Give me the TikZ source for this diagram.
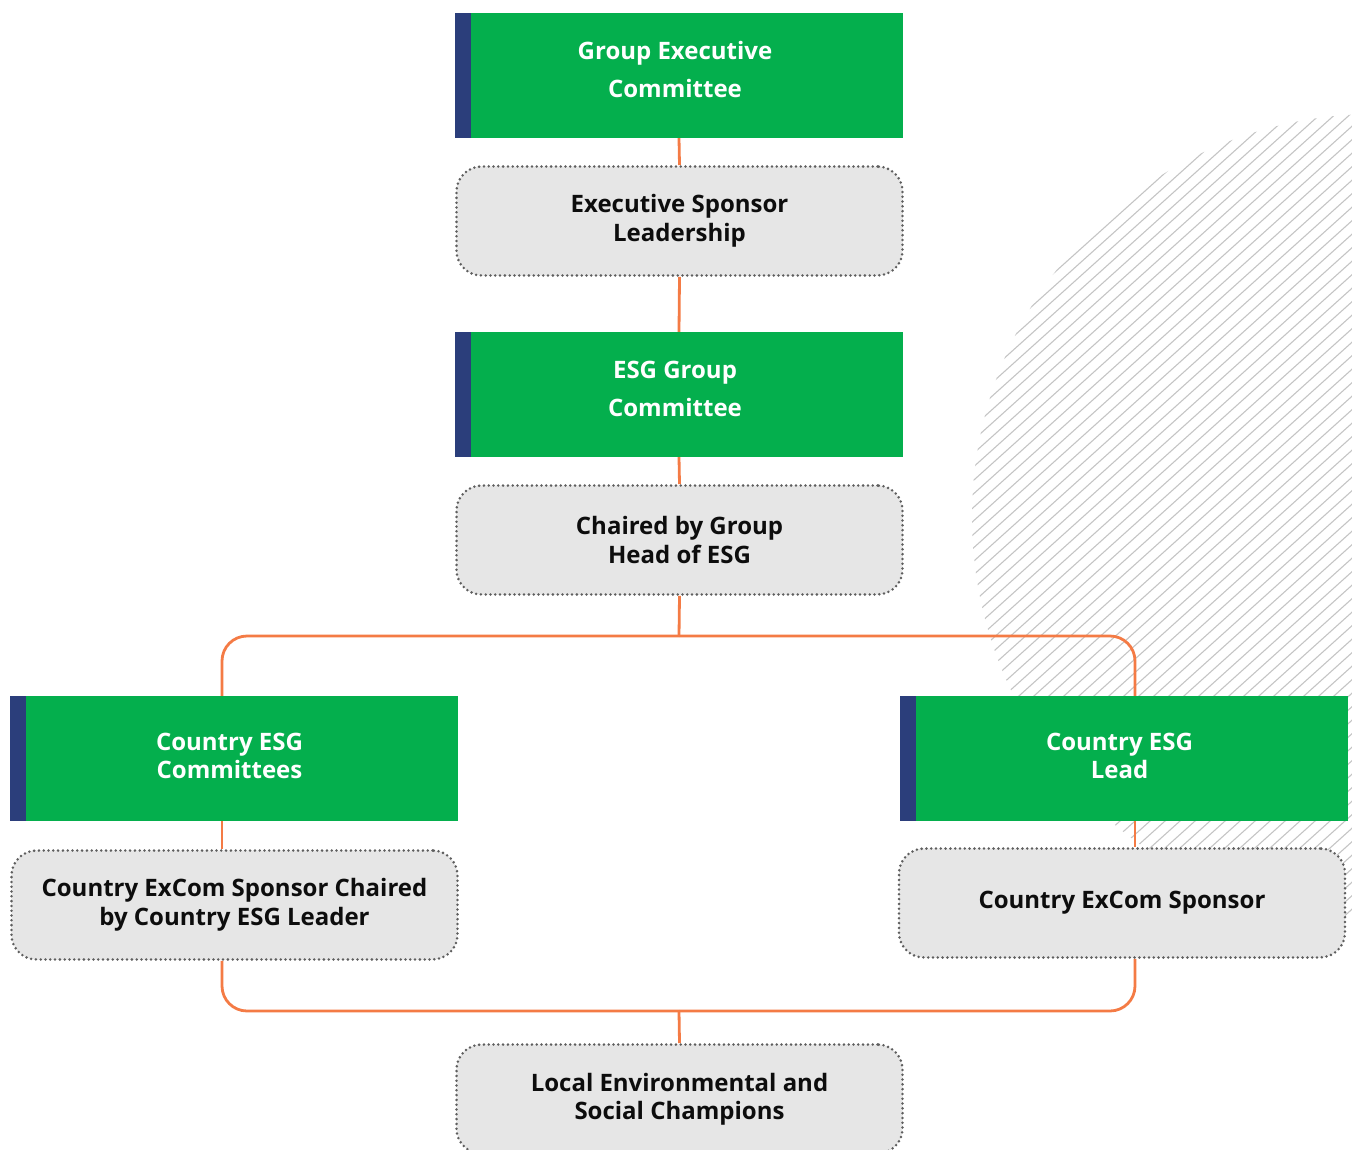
\documentclass[tikz,border=0pt]{standalone}
\usepackage{fontspec}
\setmainfont{Open Sans}
\definecolor{esggreen}{HTML}{04AF4D}
\definecolor{stripblue}{HTML}{2B3E7B}
\definecolor{connorange}{HTML}{F47B45}
\definecolor{boxgray}{HTML}{E6E6E6}
\definecolor{dotgray}{HTML}{5E5E5E}
\definecolor{hatchgray}{HTML}{C4C4C4}
\begin{document}
\begin{tikzpicture}[x=1pt,y=-1pt,
  greenbox/.style={rectangle, fill=esggreen, minimum width=448pt, minimum height=125pt,
    inner sep=0pt,
    path picture={\fill[stripblue] (path picture bounding box.north west) rectangle ([xshift=16pt]path picture bounding box.south west);}},
  greentext/.style={text=white, align=center, xshift=-4pt, inner sep=0pt},
  widegap/.style={greentext, yshift=6pt, font=\bfseries\fontsize{24}{38}\selectfont},
  narrowgap/.style={greentext, yshift=3pt, font=\bfseries\fontsize{24}{28}\selectfont},
  graybox/.style={rectangle, rounded corners=25pt, fill=boxgray, draw=dotgray, line width=2.8pt,
    dash pattern=on 0pt off 4.8pt, line cap=round, minimum width=446pt, minimum height=109pt,
    inner sep=0pt, text=black!95, align=center, font=\bfseries\fontsize{24}{28.5}\selectfont},
  conn/.style={draw=connorange, line width=2.8pt, rounded corners=25pt}]
\useasboundingbox (0,0) rectangle (1352,1149);
% hatched background disc
\begin{scope}
  \clip (0,0) rectangle (1352,1149);
  \clip (1375,517) circle (403);
  \foreach \hx in {770,785,...,1980}
    \draw[hatchgray, line width=1.1pt] (\hx-520,515+468) -- (\hx+520,515-468);
\end{scope}
% reference coordinates for side connectors
\coordinate (lx) at (222,0);
\coordinate (rx) at (1135,0);
\coordinate (j1) at (679,636);
\coordinate (j2) at (679,1011);
% boxes
\node[greenbox, label={[widegap]center:{Group Executive\\Committee}}] (g1) at (679,75.5) {};
\node[graybox] (d1) at (679.5,221) {Executive Sponsor\\Leadership};
\node[greenbox, label={[widegap]center:{ESG Group\\Committee}}] (g2) at (679,394.5) {};
\node[graybox] (d2) at (679.5,540) {Chaired by Group\\Head of ESG};
\node[greenbox, label={[narrowgap]center:{Country ESG\\Committees}}] (g3) at (233.5,758.5) {};
\node[greenbox, label={[narrowgap]center:{Country ESG\\Lead}}] (g4) at (1123.5,758.5) {};
\node[graybox] (d3) at (234.5,905) {Country ExCom Sponsor Chaired\\by Country ESG Leader};
\node[graybox] (d4) at (1122,903) {Country ExCom Sponsor};
\node[graybox] (d5) at (679.5,1099) {Local Environmental and\\Social Champions};
% connectors
\draw[conn] (g1.south) -- (d1.north);
\draw[conn] (d1.south) -- (g2.north);
\draw[conn] (g2.south) -- (d2.north);
\draw[conn] (d2.south) -- (j1);
\draw[conn] (j1) -| (g3.north -| lx);
\draw[conn] (j1) -| (g4.north -| rx);
\draw[conn] (g3.south -| lx) -- (d3.north -| lx);
\draw[conn] (g4.south -| rx) -- (d4.north -| rx);
\draw[conn] (d3.south -| lx) |- (j2);
\draw[conn] (d4.south -| rx) |- (j2);
\draw[conn] (j2) -- (d5.north);
\end{tikzpicture}
\end{document}
